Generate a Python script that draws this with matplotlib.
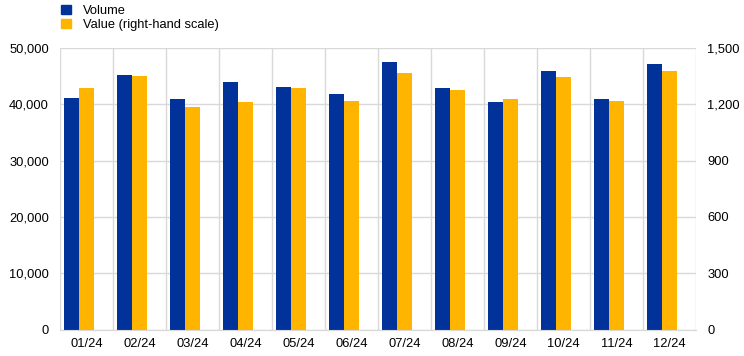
import numpy as np
import matplotlib.pyplot as plt
from matplotlib.patches import Patch

plt.rcParams['font.family'] = ['Liberation Sans', 'DejaVu Sans']

months = ['01/24', '02/24', '03/24', '04/24', '05/24', '06/24',
          '07/24', '08/24', '09/24', '10/24', '11/24', '12/24']
volume = [41100, 45200, 40950, 43950, 43070, 41830,
          47500, 42900, 40400, 45900, 40950, 47150]
value = [1287, 1351, 1185, 1212, 1287, 1217,
         1367, 1276, 1228, 1345, 1217, 1377]

blue = '#003299'
orange = '#ffb400'
grid_col = '#d9d9d9'

fig = plt.figure(figsize=(7.44, 3.56), dpi=100)
ax = fig.add_axes([60 / 744, 26.5 / 356, 636 / 744, 281.5 / 356])
ax2 = ax.twinx()

x = np.arange(len(months))
w = 0.283
ax.bar(x - w, volume, width=w, color=blue, align='center', zorder=3)
ax2.bar(x, value, width=w, color=orange, align='center', zorder=3)

ax.set_xlim(-0.5, len(months) - 0.5)
ax.set_ylim(0, 50000)
ax2.set_ylim(0, 1500)
ax.set_yticks(np.arange(0, 50001, 10000))
ax2.set_yticks(np.arange(0, 1501, 300))
ax.set_yticklabels([f'{v:,}' for v in range(0, 50001, 10000)])
ax2.set_yticklabels([f'{v:,}' for v in range(0, 1501, 300)])
ax.set_xticks(x)
ax.set_xticklabels(months)
ax.set_xticks(np.arange(-0.5, len(months)), minor=True)

ax.grid(axis='y', color=grid_col, linewidth=1, zorder=0)
ax.grid(axis='x', which='minor', color=grid_col, linewidth=1, zorder=0)
ax.set_axisbelow(True)

for a in (ax, ax2):
    for s in ('top', 'left', 'right'):
        a.spines[s].set_visible(False)
    a.spines['bottom'].set_color(grid_col)
    a.tick_params(length=0, labelsize=9.3, colors='#000000')
    a.tick_params(which='minor', length=0)
ax.tick_params(axis='y', pad=8)
ax2.tick_params(axis='y', pad=8)
ax.tick_params(axis='x', pad=6)

handles = [Patch(color=blue), Patch(color=orange)]
fig.legend(handles, ['Volume', 'Value (right-hand scale)'],
           loc='upper left', bbox_to_anchor=(55 / 744, 1.005),
           frameon=False, fontsize=9.3, handlelength=0.7,
           handleheight=0.7, handletextpad=0.95, labelspacing=0.2,
           borderaxespad=0.1)

fig.savefig('out.png', dpi=100)
